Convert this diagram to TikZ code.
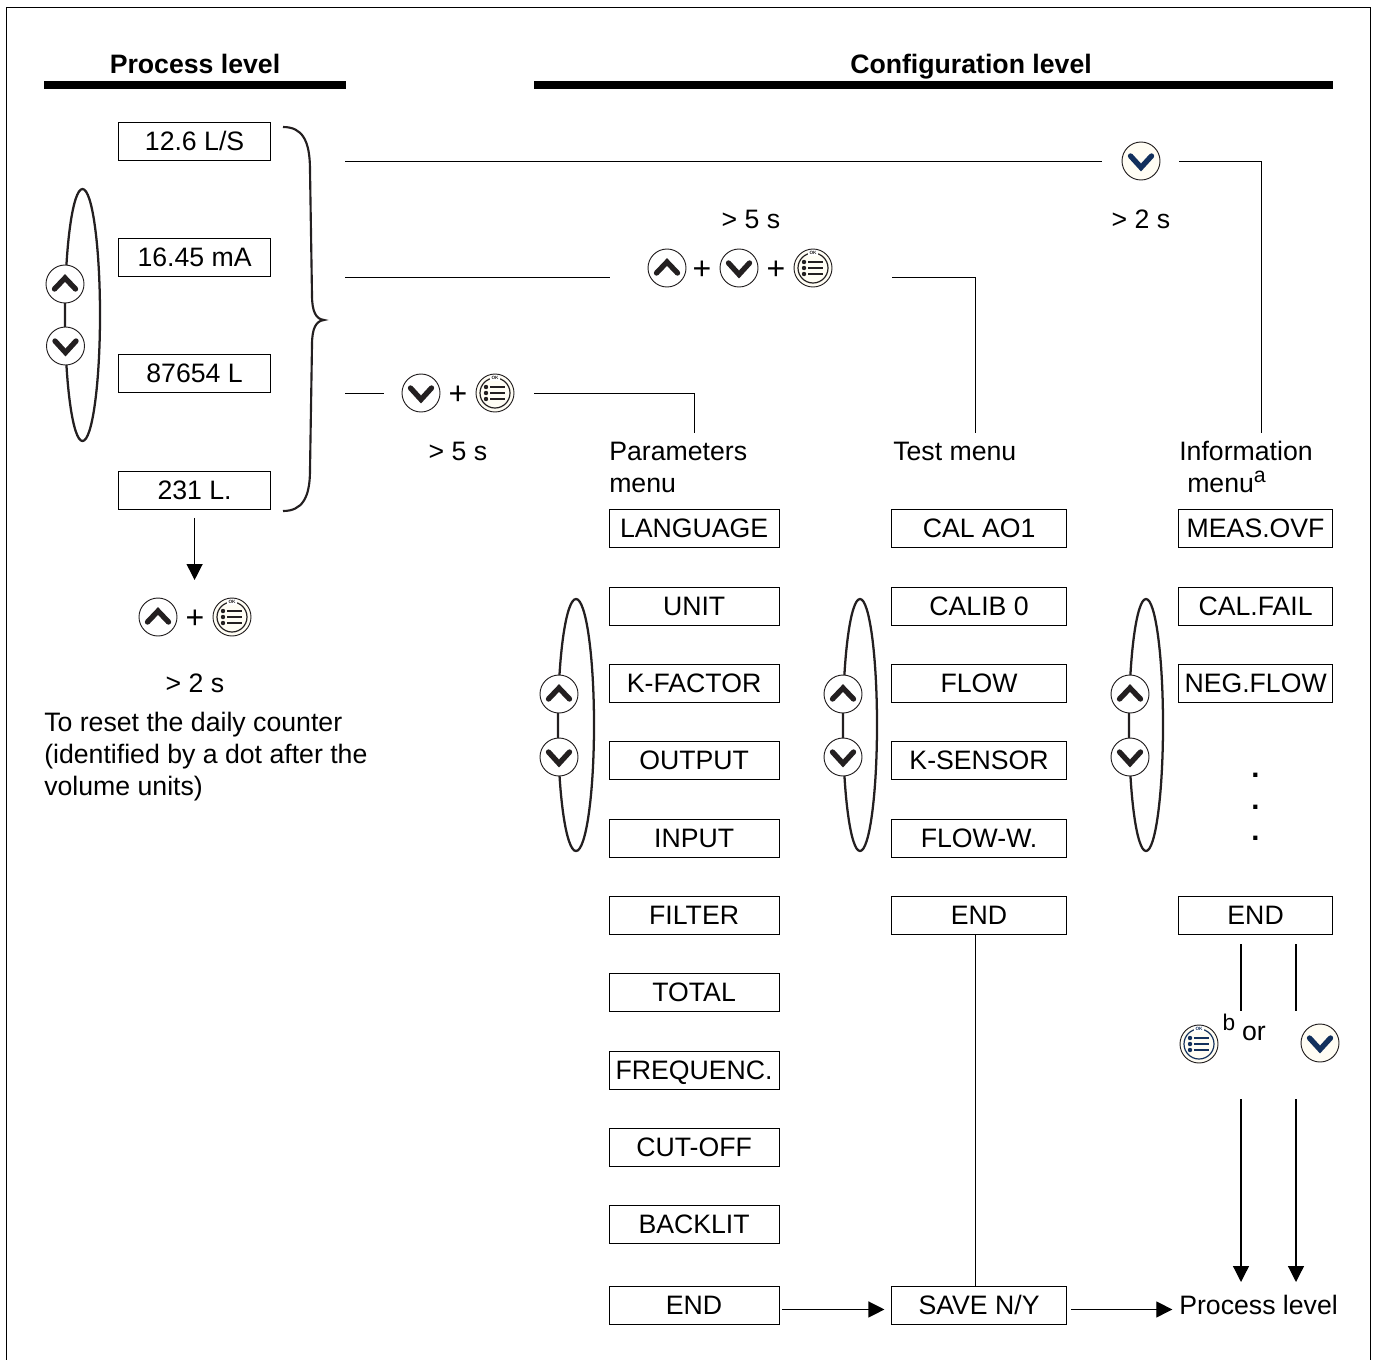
\documentclass[tikz,border=0pt]{standalone}
\usepackage{fontspec}
\setmainfont{Liberation Sans}
\usetikzlibrary{arrows.meta}
\definecolor{keycream}{HTML}{FFFDF4}
\definecolor{keynavy}{HTML}{12305C}
\definecolor{keyblack}{HTML}{231F20}
\tikzset{
  menubox/.style={draw, line width=.75pt, inner sep=0pt, xshift=-.3pt, yshift=.4pt, text height=14.3pt, text depth=1.5pt, font=\fontsize{20}{24}\selectfont},
  label/.style={inner sep=0pt, font=\fontsize{20}{24}\selectfont},
  headlabel/.style={inner sep=0pt, anchor=base, font=\fontsize{20}{24}\selectfont\bfseries},
  plusmark/.style={inner sep=0pt, yshift=-2pt, font=\fontsize{24}{24}\selectfont},
  plain/.style={line width=.75pt},
  tipline/.style={line width=.9pt, -{Triangle[length=12pt,width=12pt]}},
  loopring/.style={draw=keyblack, line width=1.7pt},
  keybase/.style={circle, draw=keyblack, line width=.7pt, fill=#1, minimum size=28.5pt, inner sep=0pt},
  upkey/.style 2 args={keybase=#2, path picture={
    \draw[#1, line width=4pt, line cap=round, line join=miter]
      ([shift={(-10.5,5)}]path picture bounding box.center) --
      ([shift={(0,-6)}]path picture bounding box.center) --
      ([shift={(10.5,5)}]path picture bounding box.center);}},
  downkey/.style 2 args={keybase=#2, path picture={
    \draw[#1, line width=4pt, line cap=round, line join=miter]
      ([shift={(-10.5,-5)}]path picture bounding box.center) --
      ([shift={(0,6.5)}]path picture bounding box.center) --
      ([shift={(10.5,-5)}]path picture bounding box.center);}},
  okkey/.style={keybase=keycream, path picture={
    \begin{scope}[shift={(path picture bounding box.center)}]
      \draw[#1, line width=.9pt] (0,0) circle (15);
      \foreach \rowy in {-6,0,6} {
        \fill[#1] (-9,\rowy) circle (2.2);
        \draw[#1, line width=1.5pt] (-5,\rowy) -- (10,\rowy);
      }
      \fill[white] (-5,-19) rectangle (5,-12);
      \node[#1, inner sep=0pt, font=\fontsize{3.5}{4}\selectfont\bfseries] at (0,-15) {OK};
    \end{scope}}},
}
\begin{document}
\begin{tikzpicture}[x=.75pt, y=-.75pt]

  % page
  \useasboundingbox (0,0) rectangle (1378,1360);
  \draw[line width=.9pt] (6.5,1362) -- (6.5,7.5) -- (1370.5,7.5) -- (1370.5,1362);

  % headers
  \node[headlabel] (procHead) at (195,73) {Process level};
  \node[headlabel] (confHead) at (971,73) {Configuration level};
  \fill[black] (44,80.5) rectangle (346,89);
  \fill[black] (534,80.5) rectangle (1333,89);

  % process level
  \foreach \nm/\rowy/\txt in {procA/142/12.6 L\slash S, procB/258/16.45 mA, procC/374/87654 L, procD/491/231 L.}
    \node[menubox, minimum width=114pt, minimum height=28.5pt] (\nm) at (195,\rowy) {\txt};
  \draw[loopring] (82.5,315) ellipse (17.5 and 126);
  \node[upkey={keyblack}{white}] (procUp) at (65,284) {};
  \node[downkey={keyblack}{white}] (procDown) at (65.5,346) {};
  \draw[line width=1.6pt, keyblack] (283,127) .. controls (302,127) and (310,140) .. (310,170)
    -- (312,295) .. controls (312,312) and (316,319) .. (324,320)
    .. controls (316,321) and (312,328) .. (312,345)
    -- (310,470) .. controls (310,498) and (302,511) .. (283,511);

  % reset
  \node[upkey={keyblack}{white}] (resetUp) at (158,617) {};
  \node[plusmark] (resetPlus) at (195,617) {+};
  \node[okkey=keyblack] (resetOk) at (232,617) {};
  \node[label] (resetTime) at (195,683) {> 2 s};
  \draw[tipline, shorten <=6pt] (procD.south) -- (procD.south |- 0,580);
  \node[label, align=left, anchor=north west] (resetNote) at (44,712)
    {To reset the daily counter\\(identified by a dot after the\\volume units)};

  % parameters branch
  \coordinate (parFrom) at (345,393);
  \coordinate (parGap) at (384,393);
  \coordinate (parTo) at (534,393);
  \coordinate (parBend) at (694,393);
  \coordinate (parEnd) at (694,433);
  \node[downkey={keyblack}{white}] (parDown) at (421,393) {};
  \node[plusmark] (parPlus) at (458,393) {+};
  \node[okkey=keyblack] (parOk) at (495,393) {};
  \node[label] (parTime) at (458,451) {> 5 s};
  \node[label, align=left, anchor=north west] (parTitle) at (609,441.5) {Parameters\\menu};
  \draw[plain] (parFrom) -- (parGap);
  \draw[plain] (parTo) -- (parBend) -- (parEnd);

  \foreach \nm/\rowy/\txt in {parA/529/LANGUAGE, parB/607/UNIT, parC/684/K-FACTOR, parD/761/OUTPUT,
      parE/839/INPUT, parF/916/FILTER, parG/993/TOTAL, parH/1071/FREQUENC., parI/1148/CUT-OFF,
      parJ/1225/BACKLIT, parK/1306/END}
    \node[menubox, minimum width=127.5pt, minimum height=28.5pt] (\nm) at (694.5,\rowy) {\txt};
  \draw[loopring] (576,725) ellipse (18 and 126);
  \node[upkey={keyblack}{white}] (parUp) at (559,694) {};
  \node[downkey={keyblack}{white}] (parDownB) at (559,757) {};

  % test branch
  \coordinate (testFrom) at (345,277);
  \coordinate (testGap) at (610,277);
  \coordinate (testTo) at (892,277);
  \coordinate (testBend) at (975,277);
  \coordinate (testEnd) at (975,433);
  \node[label] (testTime) at (751,219) {> 5 s};
  \node[upkey={keyblack}{white}] (testKeyA) at (667,268) {};
  \node[plusmark] (testPlusA) at (702,268) {+};
  \node[downkey={keyblack}{white}] (testKeyB) at (739,268) {};
  \node[plusmark] (testPlusB) at (776,268) {+};
  \node[okkey=keyblack] (testKeyC) at (813,268) {};
  \draw[plain] (testFrom) -- (testGap);
  \draw[plain] (testTo) -- (testBend) -- (testEnd);
  \node[label, anchor=west] (testTitle) at (893,451) {Test menu};

  \foreach \nm/\rowy/\txt in {testA/529/CAL AO1, testB/607/CALIB 0, testC/684/FLOW, testD/761/K-SENSOR,
      testE/839/FLOW-W., testF/916/END, saveBox/1306/SAVE N\slash Y}
    \node[menubox, minimum width=131.25pt, minimum height=28.5pt] (\nm) at (979.5,\rowy) {\txt};
  \draw[loopring] (860,725) ellipse (17 and 126);
  \node[upkey={keyblack}{white}] (testUp) at (843,694) {};
  \node[downkey={keyblack}{white}] (testDown) at (843,757) {};
  \draw[plain] (testF.south -| testEnd) -- (saveBox.north -| testEnd);

  % information branch
  \coordinate (infoFrom) at (345,161);
  \coordinate (infoGap) at (1102,161);
  \coordinate (infoTo) at (1179,161);
  \coordinate (infoBend) at (1261,161);
  \coordinate (infoEnd) at (1261,433);
  \node[downkey={keynavy}{keycream}] (infoKey) at (1141,161) {};
  \node[label] (infoTime) at (1141,219) {> 2 s};
  \draw[plain] (infoFrom) -- (infoGap);
  \draw[plain] (infoTo) -- (infoBend) -- (infoEnd);
  \node[label, align=left, anchor=north west] (infoTitle) at (1179,441)
    {Information\\\hspace*{6pt}menu\raisebox{7.5pt}{\fontsize{16}{16}\selectfont a}};

  \foreach \nm/\rowy/\txt in {infoA/529/MEAS.OVF, infoB/607/CAL.FAIL, infoC/684/NEG.FLOW, infoD/916/END}
    \node[menubox, minimum width=115.5pt, minimum height=28.5pt] (\nm) at (1256,\rowy) {\txt};
  \draw[loopring] (1146,725) ellipse (17 and 126);
  \node[upkey={keyblack}{white}] (infoUp) at (1130,694) {};
  \node[downkey={keyblack}{white}] (infoDown) at (1130,757) {};
  \foreach \nm/\rowy in {dotA/775, dotB/807, dotC/838}
    \node[label, font=\fontsize{22}{24}\selectfont\bfseries] (\nm) at (1255.5,\rowy) {.};

  % back to process level
  \coordinate (exitA) at (1241,944);
  \coordinate (exitAb) at (1241,1011);
  \coordinate (exitB) at (1296,944);
  \coordinate (exitBb) at (1296,1011);
  \coordinate (exitC) at (1241,1099);
  \coordinate (exitCb) at (1241,1282);
  \coordinate (exitD) at (1296,1099);
  \coordinate (exitDb) at (1296,1282);
  \node[okkey=keynavy] (exitOk) at (1199,1044) {};
  \node[downkey={keynavy}{keycream}] (exitDown) at (1320,1043) {};
  \node[label, font=\fontsize{17}{20}\selectfont] (exitNote) at (1229,1022) {b};
  \node[label] (exitOr) at (1254,1033) {or};
  \node[label, anchor=west] (backLevel) at (1179,1305) {Process level};
  \draw[plain, line width=.9pt] (exitA) -- (exitAb);
  \draw[plain, line width=.9pt] (exitB) -- (exitBb);
  \draw[tipline] (exitC) -- (exitCb);
  \draw[tipline] (exitD) -- (exitDb);

  % bottom row
  \draw[tipline, shorten <=2pt, shorten >=5pt] ([yshift=-3]parK.east) -- ([yshift=-3]saveBox.west);
  \draw[tipline, shorten <=3pt, shorten >=5pt] ([yshift=-3]saveBox.east) -- ([yshift=-3]saveBox.east -| backLevel.west);

\end{tikzpicture}
\end{document}
